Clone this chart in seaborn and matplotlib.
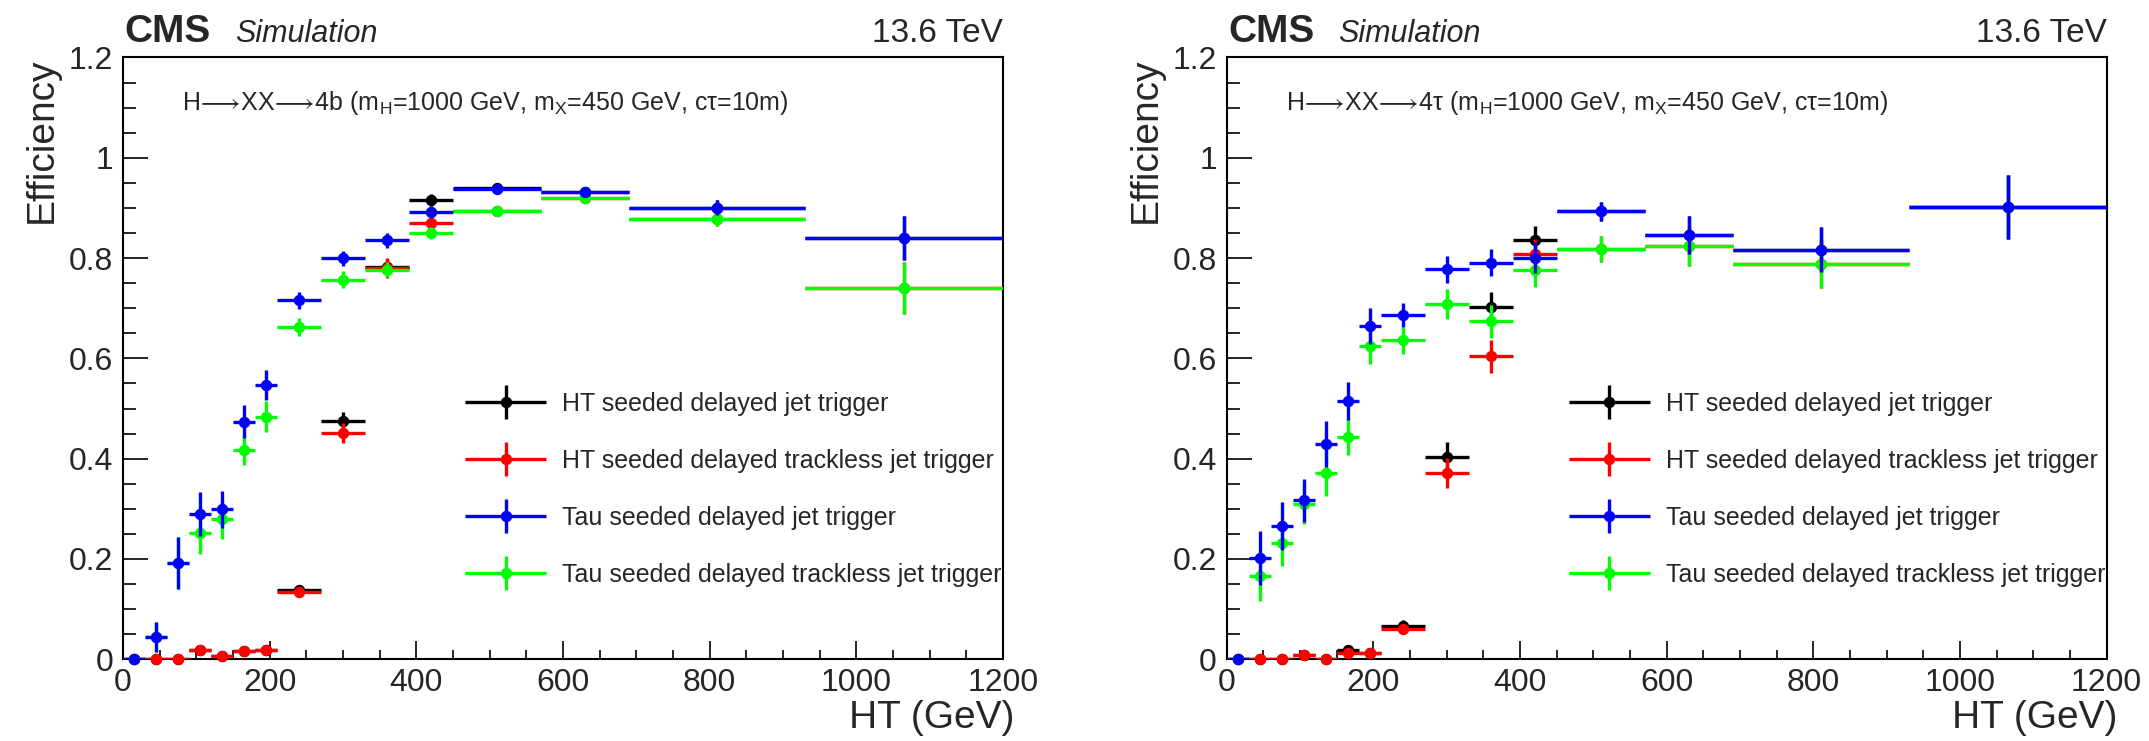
import numpy as np
import matplotlib
matplotlib.use("Agg")
import matplotlib.pyplot as plt
import seaborn as sns
from matplotlib.ticker import MultipleLocator, FuncFormatter
from matplotlib.legend_handler import HandlerErrorbar
from matplotlib.container import ErrorbarContainer

# ---------------- data ----------------
ht_edges = [0, 30, 60, 90, 120, 150, 180, 210, 270, 330, 390, 450, 570, 690, 930, 1200]

series_labels = ["HT seeded delayed jet trigger",
                 "HT seeded delayed trackless jet trigger",
                 "Tau seeded delayed jet trigger",
                 "Tau seeded delayed trackless jet trigger"]
series_colors = ["#000000", "#ff0000", "#0000ff", "#00ff00"]

# Left panel: H->XX->4b
eff_4b_ht_jet = [0, 0, 0, 0.019, 0.007, 0.016, 0.019, 0.139, 0.476, 0.783, 0.915, 0.939, 0.931, 0.900, 0.840]
err_4b_ht_jet = [0, 0, 0, 0.008, 0.005, 0.007, 0.007, 0.010, 0.018, 0.015, 0.012, 0.008, 0.010, 0.015, 0.044]
eff_4b_ht_tl = [0, 0, 0, 0.0186, 0.0066, 0.016, 0.0186, 0.134, 0.452, 0.781, 0.869, 0.894, 0.919, 0.878, 0.741]
err_4b_ht_tl = [0, 0, 0, 0.010, 0.005, 0.007, 0.007, 0.010, 0.020, 0.020, 0.013, 0.008, 0.010, 0.015, 0.052]
eff_4b_tau_jet = [0, 0.044, 0.192, 0.289, 0.299, 0.474, 0.547, 0.716, 0.800, 0.835, 0.892, 0.937, 0.931, 0.900, 0.840]
err_4b_tau_jet = [0, 0.030, 0.052, 0.044, 0.037, 0.033, 0.030, 0.017, 0.015, 0.014, 0.012, 0.008, 0.010, 0.015, 0.044]
eff_4b_tau_tl = [0, 0.044, 0.192, 0.251, 0.279, 0.418, 0.484, 0.663, 0.757, 0.777, 0.849, 0.894, 0.919, 0.878, 0.741]
err_4b_tau_tl = [0, 0.030, 0.052, 0.041, 0.039, 0.030, 0.030, 0.018, 0.017, 0.015, 0.012, 0.008, 0.010, 0.015, 0.052]

# Right panel: H->XX->4tau
eff_4t_ht_jet = [0, 0, 0, 0.009, 0, 0.019, 0.012, 0.066, 0.403, 0.702, 0.836, 0.8935, 0.846, 0.817, 0.902]
err_4t_ht_jet = [0, 0, 0, 0.006, 0, 0.008, 0.006, 0.012, 0.030, 0.030, 0.027, 0.019, 0.037, 0.045, 0.064]
eff_4t_ht_tl = [0, 0, 0, 0.0086, 0, 0.012, 0.012, 0.060, 0.371, 0.604, 0.808, 0.818, 0.824, 0.789, 0.902]
err_4t_ht_tl = [0, 0, 0, 0.006, 0, 0.006, 0.006, 0.010, 0.030, 0.033, 0.030, 0.025, 0.040, 0.048, 0.064]
eff_4t_tau_jet = [0, 0.202, 0.266, 0.317, 0.430, 0.515, 0.665, 0.687, 0.778, 0.791, 0.801, 0.8935, 0.846, 0.817, 0.902]
err_4t_tau_jet = [0, 0.053, 0.048, 0.043, 0.046, 0.037, 0.036, 0.024, 0.027, 0.027, 0.030, 0.019, 0.037, 0.045, 0.064]
eff_4t_tau_tl = [0, 0.166, 0.231, 0.309, 0.371, 0.443, 0.624, 0.636, 0.708, 0.674, 0.776, 0.818, 0.824, 0.789, 0.902]
err_4t_tau_tl = [0, 0.050, 0.045, 0.040, 0.045, 0.036, 0.035, 0.027, 0.030, 0.033, 0.033, 0.025, 0.040, 0.048, 0.064]

panel_titles = [r"H$\!\longrightarrow\!$XX$\!\longrightarrow\!$4b (m$_{\mathrm{H}}$=1000 GeV, m$_{\mathrm{X}}$=450 GeV, c$\mathrm{\tau}$=10m)",
                r"H$\!\longrightarrow\!$XX$\!\longrightarrow\!$4$\mathrm{\tau}$ (m$_{\mathrm{H}}$=1000 GeV, m$_{\mathrm{X}}$=450 GeV, c$\mathrm{\tau}$=10m)"]

panels = [
    [(eff_4b_ht_jet, err_4b_ht_jet), (eff_4b_ht_tl, err_4b_ht_tl),
     (eff_4b_tau_jet, err_4b_tau_jet), (eff_4b_tau_tl, err_4b_tau_tl)],
    [(eff_4t_ht_jet, err_4t_ht_jet), (eff_4t_ht_tl, err_4t_ht_tl),
     (eff_4t_tau_jet, err_4t_tau_jet), (eff_4t_tau_tl, err_4t_tau_tl)],
]

# ---------------- style ----------------
sns.set_style("ticks")
plt.rcParams['font.family'] = ['Liberation Sans', 'DejaVu Sans']
plt.rcParams['mathtext.fontset'] = 'custom'
plt.rcParams['mathtext.rm'] = 'Liberation Sans'
plt.rcParams['mathtext.it'] = 'Liberation Sans:italic'
plt.rcParams['mathtext.sf'] = 'Liberation Sans'
plt.rcParams['axes.linewidth'] = 1.5

edges = np.array(ht_edges, dtype=float)
centers = 0.5 * (edges[1:] + edges[:-1])
half_w = 0.5 * (edges[1:] - edges[:-1])

fig = plt.figure(figsize=(21.49, 7.41), dpi=100)
axes = [fig.add_axes([0.0572, 0.1103, 0.4095, 0.8122]),
        fig.add_axes([0.5708, 0.1103, 0.4095, 0.8122])]

draw_order = [0, 1, 3, 2]   # black, red, green, blue (blue on top)
zorders = {0: 3, 1: 4, 3: 5, 2: 6}
ms = 7.2
lw = 2.4

for ax, series, title in zip(axes, panels, panel_titles):
    handles = {}
    for i in draw_order:
        y, e = series[i]
        z = zorders[i]
        h = ax.errorbar(centers, y, xerr=half_w, yerr=e, fmt='o', color=series_colors[i],
                        ms=ms, elinewidth=lw, capsize=0, zorder=z, clip_on=False,
                        label=series_labels[i])
        for art in h.lines[2]:
            art.set_clip_on(True)
        sns.scatterplot(x=centers, y=y, color=series_colors[i], s=ms ** 2, linewidth=0,
                        zorder=z + 0.5, clip_on=False, ax=ax, legend=False)
        handles[i] = h

    ax.set_xlim(0, 1200)
    ax.set_ylim(0, 1.2)
    ax.xaxis.set_major_locator(MultipleLocator(200))
    ax.xaxis.set_minor_locator(MultipleLocator(50))
    ax.yaxis.set_major_locator(MultipleLocator(0.2))
    ax.yaxis.set_minor_locator(MultipleLocator(0.05))
    ax.yaxis.set_major_formatter(FuncFormatter(lambda v, p: f"{v:g}"))
    ax.xaxis.set_major_formatter(FuncFormatter(lambda v, p: f"{v:g}"))
    ax.tick_params(axis='both', which='both', direction='in', top=False, right=False, color='black')
    ax.tick_params(axis='y', which='major', length=18, width=1.2, labelsize=23, pad=7)
    ax.tick_params(axis='y', which='minor', length=9.4, width=1.2)
    ax.tick_params(axis='x', which='major', length=13, width=1.2, labelsize=23, pad=6)
    ax.tick_params(axis='x', which='minor', length=6.5, width=1.2)
    for sp in ax.spines.values():
        sp.set_color('black')
        sp.set_linewidth(1.5)

    ax.set_ylabel("Efficiency", fontsize=28, loc='top')
    ax.yaxis.set_label_coords(-0.072, 1.0)
    ax.set_xlabel("HT (GeV)", fontsize=28, loc='right')
    ax.xaxis.set_label_coords(1.0125, -0.068)

    ax.text(0.002, 1.025, "CMS", transform=ax.transAxes, fontsize=28, fontweight='bold', va='baseline')
    ax.text(0.127, 1.025, "Simulation", transform=ax.transAxes, fontsize=22, fontstyle='italic', va='baseline')
    ax.text(1.0, 1.025, "13.6 TeV", transform=ax.transAxes, fontsize=24, ha='right', va='baseline')
    ax.text(0.067, 0.912, title, transform=ax.transAxes, fontsize=18, va='baseline')

    hl = 3.24
    leg = ax.legend([handles[i] for i in range(4)], series_labels,
                    loc='center left', bbox_to_anchor=(0.389, 0.2825),
                    frameon=False, fontsize=18, handlelength=hl, handletextpad=0.64,
                    labelspacing=1.32, borderpad=0, borderaxespad=0, numpoints=1,
                    handler_map={ErrorbarContainer: HandlerErrorbar(xerr_size=hl / 2, yerr_size=0.68)})

fig.savefig("out.png", dpi=100)
